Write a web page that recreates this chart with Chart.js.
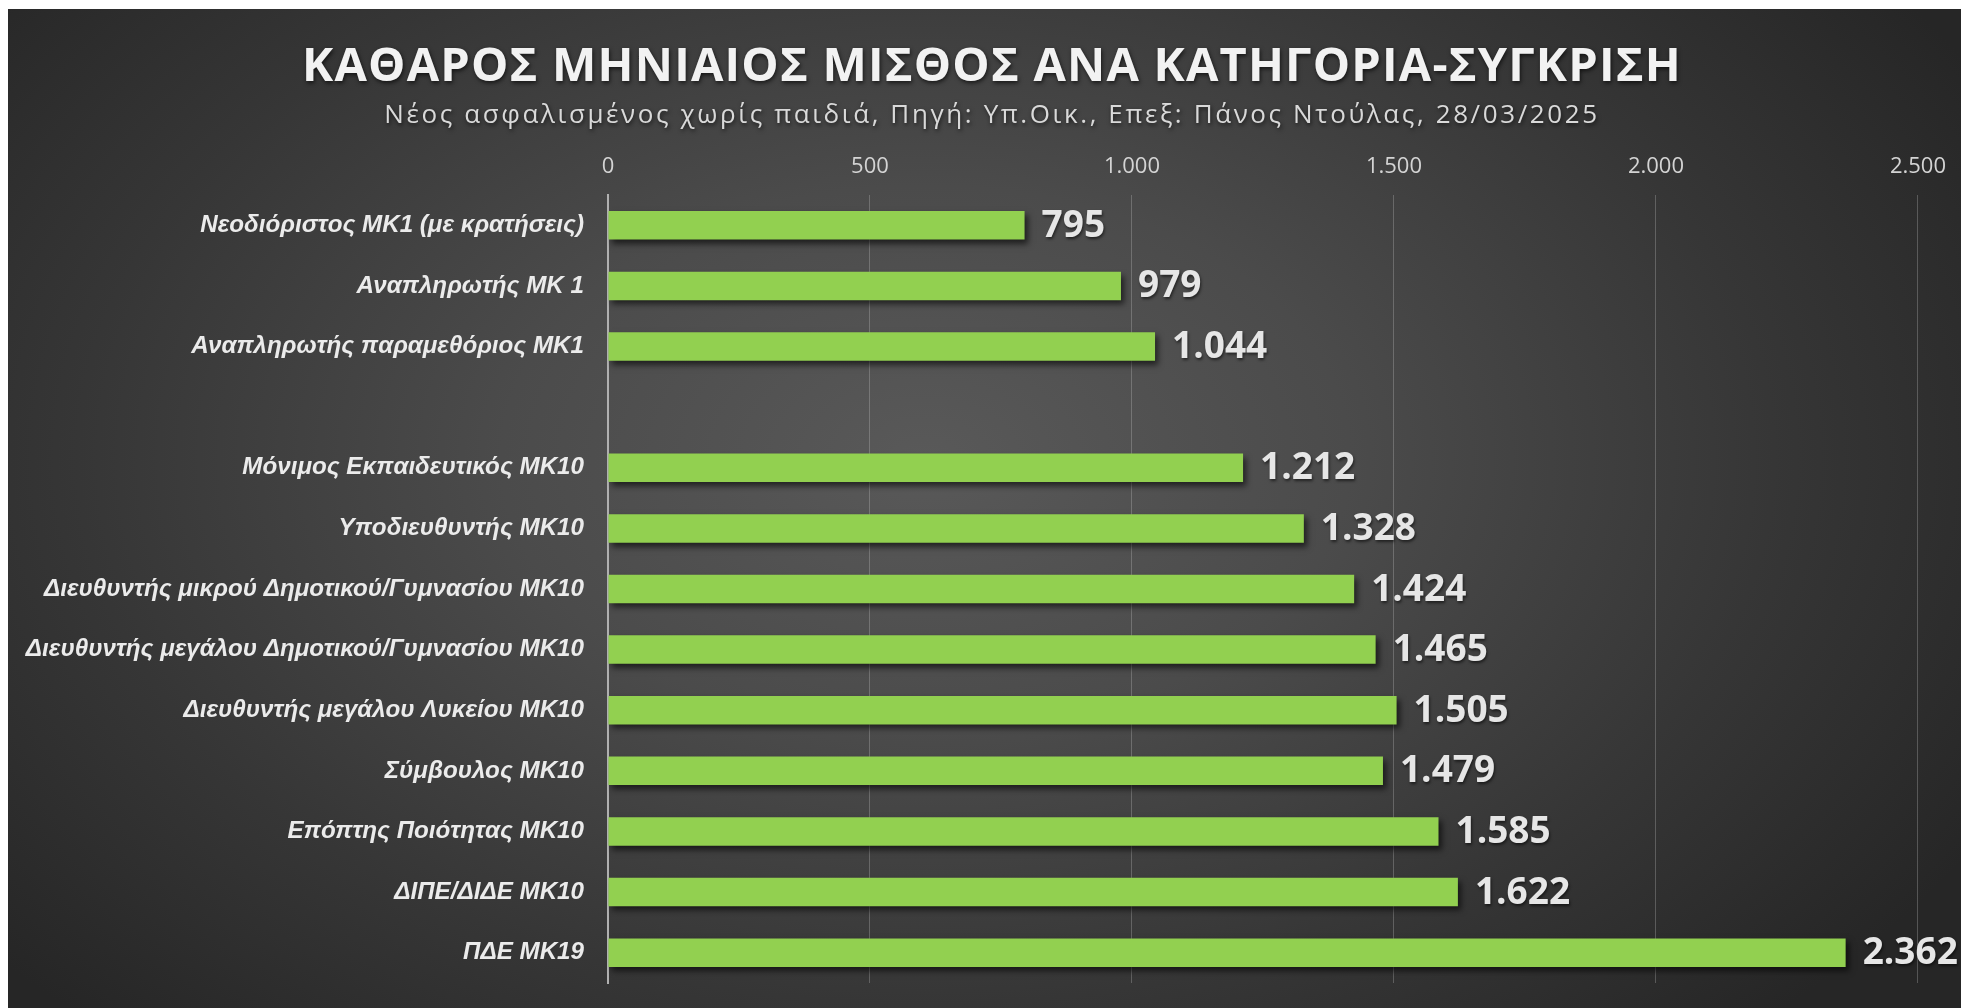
<!DOCTYPE html>
<html>
<head>
<meta charset="utf-8">
<script src="https://cdn.jsdelivr.net/npm/chart.js@4"></script>
<style>
    html, body { margin: 0; padding: 0; background: #ffffff; }
    body { width: 1961px; height: 1008px; position: relative; overflow: hidden; }
    #wrap {
        position: absolute; left: 8px; top: 9px; width: 1953px; height: 999px;
        background: radial-gradient(ellipse 62% 78% at 47% 45%, #595959 0%, #4b4b4b 35%, #363636 70%, #262626 100%);
    }
    #chart { display: block; }
</style>
</head>
<body>
<div id="wrap"><canvas id="chart" width="1953" height="999"></canvas></div>
<script>
// ============================================================================
// Daten
// ============================================================================
const TITLE = "ΚΑΘΑΡΟΣ ΜΗΝΙΑΙΟΣ ΜΙΣΘΟΣ ΑΝΑ ΚΑΤΗΓΟΡΙΑ-ΣΥΓΚΡΙΣΗ";
const SUBTITLE = "Νέος ασφαλισμένος χωρίς παιδιά, Πηγή: Υπ.Οικ., Επεξ: Πάνος Ντούλας, 28/03/2025";

const categories = [
    "Νεοδιόριστος ΜΚ1 (με κρατήσεις)",
    "Αναπληρωτής ΜΚ 1",
    "Αναπληρωτής παραμεθόριος ΜΚ1",
    "",
    "Μόνιμος Εκπαιδευτικός ΜΚ10",
    "Υποδιευθυντής ΜΚ10",
    "Διευθυντής μικρού Δημοτικού/Γυμνασίου ΜΚ10",
    "Διευθυντής μεγάλου Δημοτικού/Γυμνασίου ΜΚ10",
    "Διευθυντής μεγάλου Λυκείου ΜΚ10",
    "Σύμβουλος ΜΚ10",
    "Επόπτης Ποιότητας ΜΚ10",
    "ΔΙΠΕ/ΔΙΔΕ ΜΚ10",
    "ΠΔΕ ΜΚ19"
];

const netSalary = [795, 979, 1044, null, 1212, 1328, 1424, 1465, 1505, 1479, 1585, 1622, 2362];

const xTicks = [0, 500, 1000, 1500, 2000, 2500];

// ============================================================================
// Hilfsfunktionen
// ============================================================================
function fmt(v) {
    return String(v).replace(/\B(?=(\d{3})+(?!\d))/g, ".");
}

// Schriftgröße der Kategorien so wählen, dass die längste Beschriftung passt
function fitLabelSize(maxWidth, family) {
    const c = document.createElement("canvas").getContext("2d");
    let longest = 0;
    for (let s of categories) {
        c.font = `italic bold 20px ${family}`;
        longest = Math.max(longest, c.measureText(s).width);
    }
    return Math.min(26, Math.floor(20 * maxWidth / longest * 10) / 10);
}

const LABEL_FAMILY = "'Liberation Sans', Arial, sans-serif";
const labelSize = fitLabelSize(559, LABEL_FAMILY);

// ============================================================================
// Plugins: Überschrift, Balkenschatten, Werte
// ============================================================================
const headerPlugin = {
    id: "header",
    afterDraw(chart) {
        const ctx = chart.ctx;
        const t = chart.options.plugins.title.text;
        const s = chart.options.plugins.subtitle.text;
        ctx.save();
        ctx.textAlign = "center";
        ctx.textBaseline = "middle";
        ctx.shadowColor = "rgba(0,0,0,0.65)";
        ctx.shadowOffsetX = 1;
        ctx.shadowOffsetY = 2;
        ctx.shadowBlur = 4;

        ctx.fillStyle = "#f2f2f2";
        ctx.font = "bold 47px 'Open Sans', 'Noto Sans', sans-serif";
        ctx.letterSpacing = "1.2px";
        ctx.fillText(t, 984, 59);

        ctx.fillStyle = "#d9d9d9";
        ctx.font = "26px 'Open Sans', 'Noto Sans', sans-serif";
        ctx.letterSpacing = "2.6px";
        ctx.fillText(s, 984, 107);
        ctx.restore();
    }
};

const barPlugin = {
    id: "barShadowAndValues",
    beforeDatasetsDraw(chart) {
        const ctx = chart.ctx;
        ctx.save();
        ctx.shadowColor = "rgba(0,0,0,0.6)";
        ctx.shadowOffsetX = 3;
        ctx.shadowOffsetY = 4;
        ctx.shadowBlur = 6;
    },
    afterDatasetsDraw(chart) {
        const ctx = chart.ctx;
        ctx.restore();

        const meta = chart.getDatasetMeta(0);
        const data = chart.data.datasets[0].data;
        ctx.save();
        ctx.font = "bold 37px 'Open Sans', 'Noto Sans', sans-serif";
        ctx.fillStyle = "#e6e6e6";
        ctx.textAlign = "left";
        ctx.textBaseline = "middle";
        ctx.shadowColor = "rgba(0,0,0,0.55)";
        ctx.shadowOffsetX = 1;
        ctx.shadowOffsetY = 2;
        ctx.shadowBlur = 3;
        meta.data.forEach((bar, i) => {
            if (data[i] == null) return;
            ctx.fillText(fmt(data[i]), bar.x + 17, bar.y + 1);
        });
        ctx.restore();
    }
};

// ============================================================================
// Chart
// ============================================================================
new Chart(document.getElementById("chart"), {
    type: "bar",
    data: {
        labels: categories,
        datasets: [{
            data: netSalary,
            backgroundColor: "#92D050",
            borderWidth: 0,
            barPercentage: 0.47,
            categoryPercentage: 1.0
        }]
    },
    options: {
        indexAxis: "y",
        responsive: false,
        animation: false,
        layout: { padding: { top: 118, left: 0, right: 43, bottom: 25 } },
        plugins: {
            legend: { display: false },
            tooltip: { enabled: false },
            title: { display: false, text: TITLE },
            subtitle: { display: false, text: SUBTITLE }
        },
        scales: {
            x: {
                position: "top",
                min: 0,
                max: 2500,
                afterBuildTicks: (scale) => {
                    scale.ticks = xTicks.map(v => ({ value: v }));
                },
                afterFit: (scale) => { scale.height = 68; },
                ticks: {
                    color: "#d4d4d4",
                    padding: 15,
                    font: { family: "'Open Sans', 'Noto Sans', sans-serif", size: 22 },
                    callback: (v) => fmt(v)
                },
                grid: {
                    color: "rgba(210,210,210,0.28)",
                    lineWidth: 1,
                    drawTicks: false
                },
                border: { display: false }
            },
            y: {
                afterFit: (scale) => {
                    scale.width = 600;
                    scale.paddingTop = 0;
                    scale.paddingBottom = 0;
                },
                ticks: {
                    color: "#ebebeb",
                    padding: 24,
                    font: { family: LABEL_FAMILY, size: labelSize, style: "italic", weight: "bold" }
                },
                grid: { display: false, drawTicks: false },
                border: { display: true, color: "#b0b0b0", width: 2 }
            }
        }
    },
    plugins: [headerPlugin, barPlugin]
});
</script>
</body>
</html>
